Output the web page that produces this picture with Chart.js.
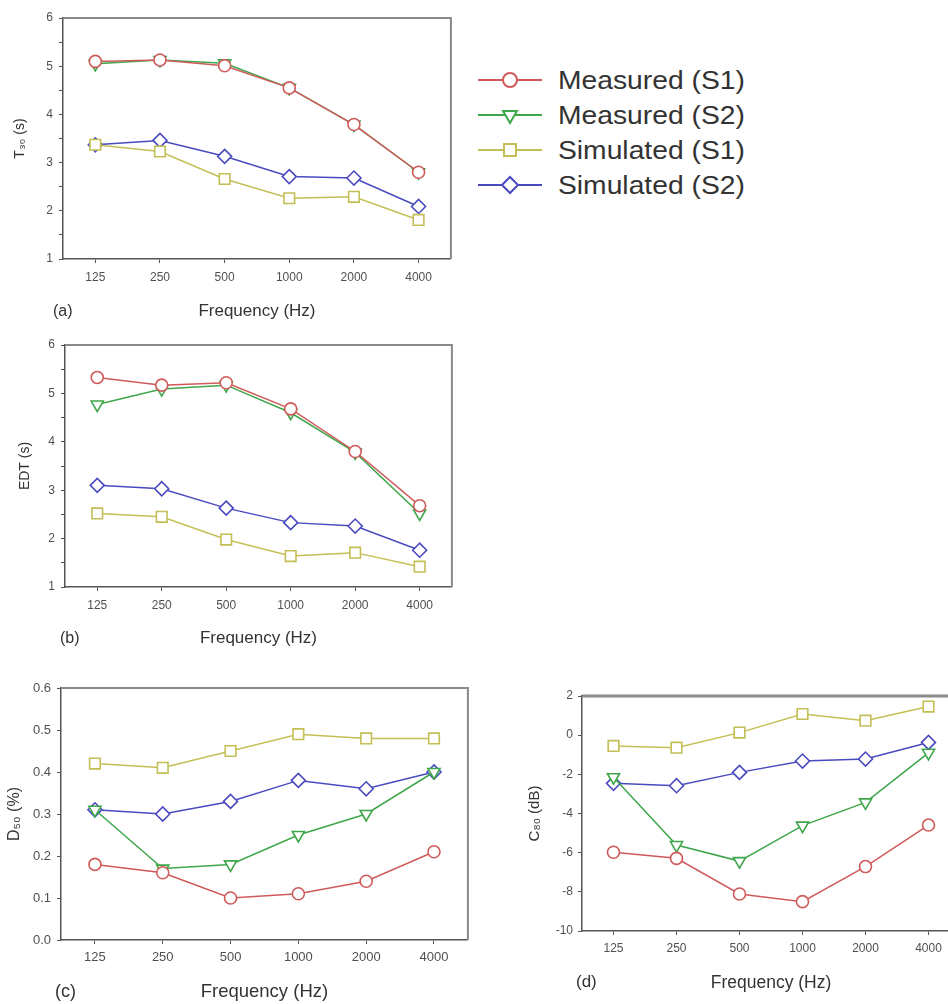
<!DOCTYPE html>
<html>
<head>
<meta charset="utf-8">
<script src="https://cdn.jsdelivr.net/npm/chart.js@4.4.1/dist/chart.umd.min.js"></script>
<style>
  html, body { margin: 0; padding: 0; width: 948px; height: 1004px; overflow: hidden; background: #fff; }
  canvas { position: absolute; }
  .tag { position: absolute; font-family: 'Liberation Sans', Arial, sans-serif; color: #333; }
  .leg { position: absolute; font: 25px 'Liberation Sans', Arial, sans-serif; color: #333; line-height: 30px; white-space: nowrap;
         transform: scaleX(1.13); transform-origin: left center; }
</style>
</head>
<body>
<canvas id="chartA" width="460" height="326" style="left:0;top:0"></canvas>
<canvas id="chartB" width="461" height="334" style="left:0;top:320px"></canvas>
<canvas id="chartC" width="477" height="339" style="left:0;top:665px"></canvas>
<canvas id="chartD" width="500" height="334" style="left:470px;top:670px"></canvas>
<div class="tag" style="left:53px;top:302px;font-size:16px">(a)</div>
<div class="tag" style="left:60px;top:629px;font-size:16px">(b)</div>
<div class="tag" style="left:55px;top:981px;font-size:18px">(c)</div>
<div class="tag" style="left:576px;top:972px;font-size:17px">(d)</div>
<div id="legend"></div>
<script>
const frequencies = ['125', '250', '500', '1000', '2000', '4000'];
const seriesNames = ['Measured (S1)', 'Measured (S2)', 'Simulated (S1)', 'Simulated (S2)'];
const seriesColors = ['#d05a5a', '#3fa64a', '#c4bf55', '#4a4ac0'];

// (a) T30
const t30Measured1 = [5.10, 5.13, 5.01, 4.55, 3.79, 2.80];
const t30Measured2 = [5.05, 5.13, 5.06, 4.55, 3.79, 2.80];
const t30Simulated1 = [3.37, 3.23, 2.66, 2.26, 2.29, 1.81];
const t30Simulated2 = [3.37, 3.46, 3.13, 2.71, 2.68, 2.09];

// (b) EDT
const edtMeasured1 = [5.33, 5.17, 5.22, 4.68, 3.80, 2.68];
const edtMeasured2 = [4.77, 5.09, 5.17, 4.60, 3.78, 2.52];
const edtSimulated1 = [2.52, 2.45, 1.98, 1.64, 1.71, 1.42];
const edtSimulated2 = [3.10, 3.03, 2.63, 2.33, 2.26, 1.76];

// (c) D50
const d50Measured1 = [0.18, 0.16, 0.10, 0.11, 0.14, 0.21];
const d50Measured2 = [0.31, 0.17, 0.18, 0.25, 0.30, 0.40];
const d50Simulated1 = [0.42, 0.41, 0.45, 0.49, 0.48, 0.48];
const d50Simulated2 = [0.31, 0.30, 0.33, 0.38, 0.36, 0.40];

// (d) C80
const c80Measured1 = [-5.98, -6.29, -8.11, -8.50, -6.71, -4.59];
const c80Measured2 = [-2.15, -5.61, -6.43, -4.62, -3.43, -0.90];
const c80Simulated1 = [-0.55, -0.64, 0.13, 1.08, 0.74, 1.46];
const c80Simulated2 = [-2.46, -2.58, -1.90, -1.32, -1.22, -0.37];

const markers = [
  { style: 'circle', rotation: 0, radius: 6 },
  { style: 'triangle', rotation: 180, radius: 7 },
  { style: 'rect', rotation: 0, radius: 7.5 },
  { style: 'rectRot', rotation: 0, radius: 7 }
];

Chart.defaults.font.family = "'Liberation Sans', Arial, sans-serif";
Chart.defaults.animation = false;

const framePlugin = {
  id: 'frame',
  beforeDatasetsDraw(chart, args, opts) {
    const { ctx, chartArea: a } = chart;
    ctx.save();
    ctx.strokeStyle = opts.color || '#8a8a8a';
    ctx.lineWidth = opts.width || 2;
    ctx.beginPath();
    ctx.moveTo(a.left, a.top);
    ctx.lineTo(a.right, a.top);
    ctx.lineTo(a.right, a.bottom);
    ctx.stroke();
    ctx.restore();
  }
};

function makeChart(id, values, cfg) {
  const datasets = values.map((v, i) => ({
    label: seriesNames[i],
    data: v,
    borderColor: seriesColors[i],
    backgroundColor: '#fff',
    borderWidth: 1.5,
    pointStyle: markers[i].style,
    rotation: markers[i].rotation,
    pointRadius: markers[i].radius,
    pointBorderWidth: 1.6,
    pointBackgroundColor: '#fff',
    pointBorderColor: seriesColors[i],
    tension: 0
  }));
  const canvas = document.getElementById(id);
  return new Chart(canvas, {
    type: 'line',
    data: { labels: frequencies, datasets: datasets },
    plugins: [framePlugin],
    options: {
      responsive: false,
      layout: { padding: cfg.padding },
      plugins: {
        legend: { display: false },
        tooltip: { enabled: false },
        frame: { color: '#8a8a8a', width: cfg.frameWidth || 2 }
      },
      scales: {
        x: {
          offset: true,
          grid: { drawOnChartArea: false, offset: false, tickLength: 4, color: '#555' },
          border: { color: '#555', width: 1.5 },
          ticks: { font: { size: cfg.tickSize }, color: '#505050', padding: cfg.xPad, maxRotation: 0 },
          title: { display: true, text: 'Frequency (Hz)', color: '#333', font: { size: cfg.xTitleSize }, padding: { top: 0, bottom: cfg.xTitlePad } },
          afterFit: s => { s.height = cfg.xHeight; s.paddingLeft = 0; s.paddingRight = 0; }
        },
        y: {
          min: cfg.min,
          max: cfg.max,
          grid: { drawOnChartArea: false, tickLength: 4, color: '#555' },
          border: { color: '#555', width: 1.5 },
          ticks: {
            stepSize: cfg.step,
            autoSkip: false,
            font: { size: cfg.tickSize },
            color: '#505050',
            padding: cfg.yPad,
            callback: cfg.format
          },
          title: { display: true, text: cfg.yTitle, color: '#333', font: { size: cfg.yTitleSize }, padding: { top: cfg.yTitlePad, bottom: 0 } },
          afterFit: s => { s.width = cfg.yWidth; s.paddingTop = 0; s.paddingBottom = 0; }
        }
      }
    }
  });
}

const halfStepLabel = v => (Number.isInteger(v) ? v : '');

makeChart('chartA', [t30Measured1, t30Measured2, t30Simulated1, t30Simulated2], {
  padding: { top: 18, right: 8, left: 0, bottom: 0 },
  min: 1, max: 6, step: 0.5, format: halfStepLabel,
  yWidth: 63, xHeight: 67, tickSize: 12, xPad: 7, yPad: 6,
  xTitleSize: 17, xTitlePad: 4, yTitle: 'T\u2083\u2080 (s)', yTitleSize: 14, yTitlePad: 12
});

makeChart('chartB', [edtMeasured1, edtMeasured2, edtSimulated1, edtSimulated2], {
  padding: { top: 25, right: 8, left: 0, bottom: 0 },
  min: 1, max: 6, step: 0.5, format: halfStepLabel,
  yWidth: 65, xHeight: 67, tickSize: 12, xPad: 7, yPad: 6,
  xTitleSize: 17, xTitlePad: 5, yTitle: 'EDT (s)', yTitleSize: 14, yTitlePad: 17
});

makeChart('chartC', [d50Measured1, d50Measured2, d50Simulated1, d50Simulated2], {
  padding: { top: 23, right: 8, left: 0, bottom: 0 },
  min: 0, max: 0.6, step: 0.1, format: v => v.toFixed(1),
  yWidth: 61, xHeight: 64, tickSize: 13, xPad: 6, yPad: 6,
  xTitleSize: 18.5, xTitlePad: 1, yTitle: 'D\u2085\u2080 (%)', yTitleSize: 16, yTitlePad: 5
});

makeChart('chartD', [c80Measured1, c80Measured2, c80Simulated1, c80Simulated2], {
  padding: { top: 26, right: 10, left: 0, bottom: 0 },
  min: -10, max: 2, step: 2, format: v => v,
  yWidth: 112, xHeight: 73, tickSize: 12, xPad: 6, yPad: 5,
  xTitleSize: 17.5, xTitlePad: 10, yTitle: 'C\u2088\u2080 (dB)', yTitleSize: 15, yTitlePad: 56,
  frameWidth: 3
});

// legend drawn with the same marker helper that Chart.js uses
const legendBox = document.getElementById('legend');
seriesNames.forEach((name, i) => {
  const cy = 80 + 35 * i;
  const c = document.createElement('canvas');
  c.width = 70; c.height = 30;
  c.style.left = '476px';
  c.style.top = (cy - 15) + 'px';
  legendBox.appendChild(c);
  const ctx = c.getContext('2d');
  ctx.strokeStyle = seriesColors[i];
  ctx.lineWidth = 2;
  ctx.beginPath();
  ctx.moveTo(2, 15);
  ctx.lineTo(66, 15);
  ctx.stroke();
  ctx.fillStyle = '#fff';
  ctx.lineWidth = 2;
  Chart.helpers.drawPoint(ctx, {
    pointStyle: markers[i].style,
    rotation: markers[i].rotation,
    radius: markers[i].radius + 1,
    borderWidth: 2
  }, 34, 15);
  const t = document.createElement('div');
  t.className = 'leg';
  t.style.left = '558px';
  t.style.top = (cy - 15) + 'px';
  t.textContent = name;
  legendBox.appendChild(t);
});
</script>
</body>
</html>
